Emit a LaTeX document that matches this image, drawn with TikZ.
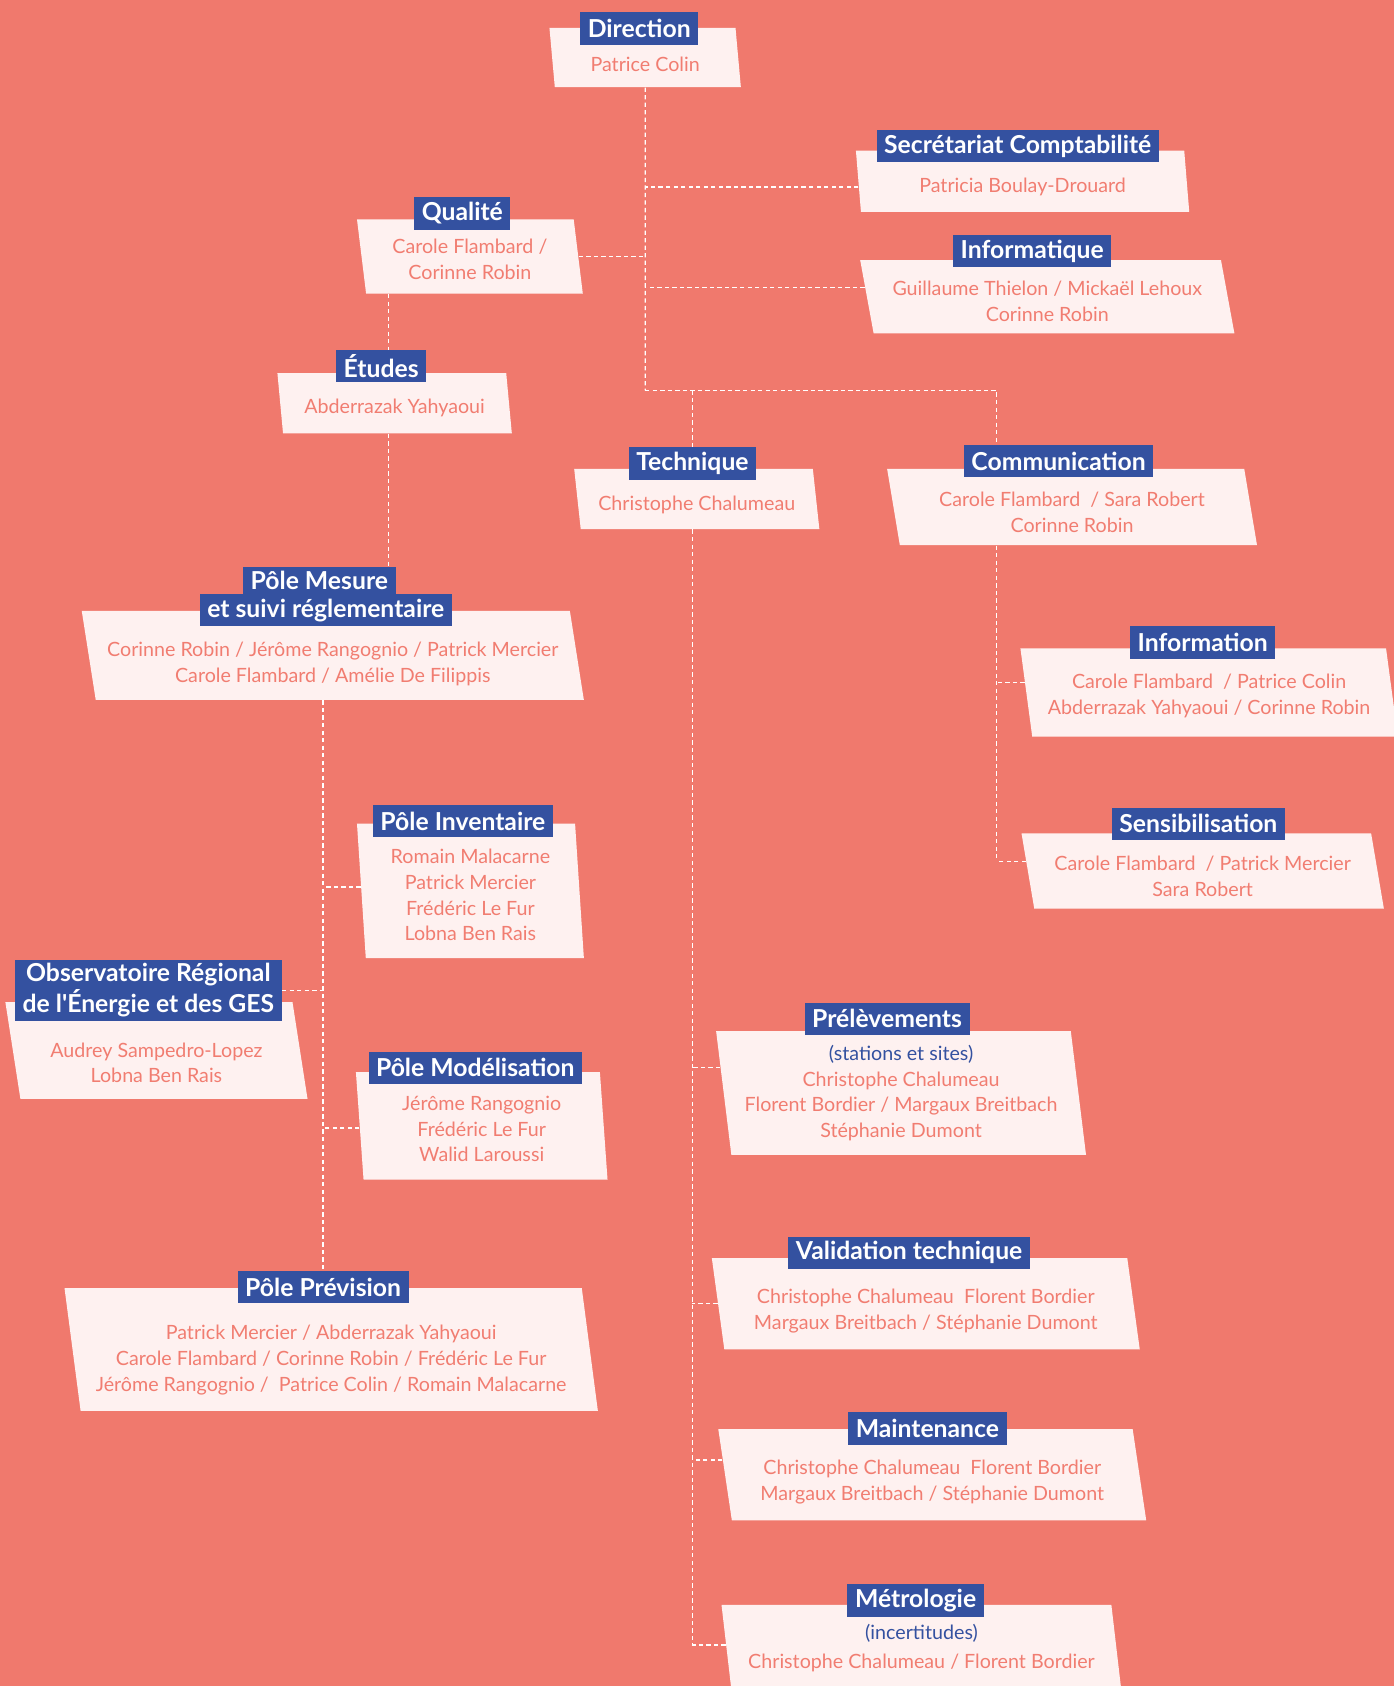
\documentclass[tikz,border=0pt]{standalone}
\usepackage{fontspec}
\setmainfont{Lato}[Ligatures=TeXOff]
\usetikzlibrary{shapes.geometric}

\definecolor{fondsaumon}{RGB}{240,121,109}
\definecolor{fondcarte}{RGB}{254,241,240}
\definecolor{bleuservice}{RGB}{52,81,160}
\definecolor{texteNoms}{RGB}{241,125,113}

\newcommand\fontenoms{\fontsize{9.15}{12}\selectfont}
\newcommand\fonteservice{\bfseries\fontsize{11.5}{14.5}\selectfont}
\newcommand\precision[1]{{\color{bleuservice}#1}}

\tikzset{
  carte/.style={trapezium, trapezium left angle={90+#1}, trapezium right angle={90-#1},
    trapezium stretches body, fill=fondcarte, text=texteNoms, font=\fontenoms,
    align=center, inner sep=0pt},
  carte/.default=12,
  % descend le texte de la carte : #1 = decalage (px), #2 = nombre de lignes
  decale/.style 2 args={execute at begin node={\rule{0pt}{\dimexpr 6.7pt+#1pt+12pt*#2-12pt\relax}}},
  service/.style={fill=bleuservice, text=white, font=\fonteservice, align=center,
    inner xsep=3.5pt, inner ysep=0pt, minimum height=15pt},
  lien/.style={draw=white, dash pattern=on 2pt off 1.5pt, line width=0.6pt},
}

\begin{document}
\begin{tikzpicture}[x=0.5pt, y=-0.5pt]
    % Fond
    \fill[fondsaumon] (0,0) rectangle (1296,1568);
    \useasboundingbox (0,0) rectangle (1296,1568);

    % Cartes (parallelogrammes)
    \node[carte=11, decale={6}{1}, minimum width=89pt, minimum height=27.5pt] (dir) at (600,53.5) {Patrice Colin};
    \node[carte=10, decale={5}{1}, minimum width=155pt, minimum height=28.5pt] (secr) at (951,168.5) {Patricia Boulay-Drouard};
    \node[carte=11, decale={3}{2}, minimum width=105pt, minimum height=34.5pt] (qual) at (437,238.5) {Carole Flambard /\\Corinne Robin};
    \node[carte=15, decale={4.5}{2}, minimum width=174pt, minimum height=34pt] (info) at (974,276) {Guillaume Thielon / Mickaël Lehoux\\Corinne Robin};
    \node[carte, decale={4}{1}, minimum width=109pt, minimum height=28pt] (etud) at (367,375) {Abderrazak Yahyaoui};
    \node[carte, decale={6}{1}, minimum width=114pt, minimum height=28pt] (tech) at (648,464) {Christophe Chalumeau};
    \node[carte=14, decale={5}{2}, minimum width=172pt, minimum height=35.5pt] (comm) at (997,471.5) {Carole Flambard~ / Sara Robert\\Corinne Robin};
    \node[carte=13, decale={8}{2}, minimum width=233.5pt, minimum height=41.5pt] (mes) at (309.5,609.5) {Corinne Robin / Jérôme Rangognio / Patrick Mercier\\Carole Flambard / Amélie De Filippis};
    \node[carte=13, decale={3.5}{2}, minimum width=175.5pt, minimum height=41pt] (infor) at (1124.5,644) {Carole Flambard~ / Patrice Colin\\Abderrazak Yahyaoui / Corinne Robin};
    \node[carte=14, decale={5}{2}, minimum width=168.5pt, minimum height=35pt] (sens) at (1118.5,810) {Carole Flambard~ / Patrick Mercier\\Sara Robert};
    \node[carte=5, decale={4}{4}, minimum width=105.5pt, minimum height=62.5pt] (inv) at (437.5,828.5) {Romain Malacarne\\Patrick Mercier\\Frédéric Le Fur\\Lobna Ben Rais};
    \node[carte=13, decale={11.5}{2}, minimum width=140.5pt, minimum height=45pt] (obs) at (145.5,977) {Audrey Sampedro-Lopez\\Lobna Ben Rais};
    \node[carte=6, decale={3}{3}, minimum width=117pt, minimum height=50pt] (mod) at (448,1047) {Jérôme Rangognio\\Frédéric Le Fur\\Walid Laroussi};
    \node[carte=9, minimum width=172pt, minimum height=57.5pt] (prel) at (838,1016.5) {\precision{(stations et sites)}\\Christophe Chalumeau\\Florent Bordier / Margaux Breitbach\\Stéphanie Dumont};
    \node[carte=10, decale={10}{3}, minimum width=248pt, minimum height=57pt] (prev) at (308,1255) {Patrick Mercier / Abderrazak Yahyaoui\\Carole Flambard / Corinne Robin / Frédéric Le Fur\\Jérôme Rangognio /~ Patrice Colin / Romain Malacarne};
    \node[carte, decale={7}{2}, minimum width=199pt, minimum height=42.5pt] (valid) at (861,1212.5) {Christophe Chalumeau~ Florent Bordier\\Margaux Breitbach / Stéphanie Dumont};
    \node[carte=13, decale={7}{2}, minimum width=199pt, minimum height=42.5pt] (maint) at (867,1371.5) {Christophe Chalumeau~ Florent Bordier\\Margaux Breitbach / Stéphanie Dumont};
    \node[carte, minimum width=186pt, minimum height=40.5pt] (metro) at (857,1533) {\precision{(incertitudes)}\\[1.5pt]Christophe Chalumeau / Florent Bordier};

    % Etiquettes des services
    \node[service] (tdir) at (594.5,26.5) {Direction};
    \node[service] (tsecr) at (946.5,136) {Secrétariat Comptabilité};
    \node[service] (tqual) at (430,198.5) {Qualité};
    \node[service] (tinfo) at (960,233.5) {Informatique};
    \node[service] (tetud) at (354.5,340.5) {Études};
    \node[service] (ttech) at (644,431) {Technique};
    \node[service] (tcomm) at (984.5,429) {Communication};
    \node[service, minimum height=13pt] (tmes1) at (297,540) {Pôle Mesure};
    \node[service] (tmes2) at (303,567.5) {et suivi réglementaire};
    \node[service] (tinfor) at (1118.5,597.5) {Information};
    \node[service] (tsens) at (1114.5,766) {Sensibilisation};
    \node[service] (tinv) at (430.5,763.5) {Pôle Inventaire};
    \node[service, inner ysep=1.5pt] (tobs) at (138,921) {Observatoire Régional\\de l'Énergie et des GES};
    \node[service] (tmod) at (442,993) {Pôle Modélisation};
    \node[service] (tprel) at (825,947.5) {Prélèvements};
    \node[service] (tprev) at (300.5,1197) {Pôle Prévision};
    \node[service] (tvalid) at (845.5,1165) {Validation technique};
    \node[service] (tmaint) at (862.5,1328.5) {Maintenance};
    \node[service] (tmetro) at (851.5,1488.5) {Métrologie};

    % Liaisons
    \coordinate (split) at (600,363);
    \coordinate (ccoin) at (927,363);
    \coordinate (etudx) at (361,300);
    \draw[lien] (dir.south) -- (split);
    \draw[lien] (split) -- (ccoin) -- (ccoin |- tcomm.north);
    \draw[lien] (split -| ttech.north) -- (ttech.north);
    \draw[lien] (secr.182.5) -- (secr.182.5 -| split);
    \draw[lien] (info.177.6) -- (info.177.6 -| split);
    \draw[lien] (qual.right side) -- (qual.right side -| split);
    \draw[lien] (qual.south -| etudx) -- (tetud.north -| etudx);
    \draw[lien] (etud.south -| etudx) -- (tmes1.north -| etudx);

    % Pole mesure
    \draw[lien] (mes.south -| tprev.north) -- (tprev.north);
    \draw[lien] (inv.178) -- (inv.178 -| tprev.north);
    \draw[lien] (tobs.east) -- (tobs.east -| tprev.north);
    \draw[lien] (mod.181) -- (mod.181 -| tprev.north);

    % Technique
    \draw[lien] (tech.south -| ttech.north) -- (metro.179.2 -| ttech.north);
    \foreach \n/\a in {prel/172.3, valid/180, maint/176.9, metro/179.2}
        \draw[lien] (\n.\a) -- (\n.\a -| ttech.north);

    % Communication
    \draw[lien] (comm.south -| ccoin) -- (sens.177.2 -| ccoin);
    \draw[lien] (infor.177) -- (infor.177 -| ccoin);
    \draw[lien] (sens.177.2) -- (sens.177.2 -| ccoin);
\end{tikzpicture}
\end{document}
